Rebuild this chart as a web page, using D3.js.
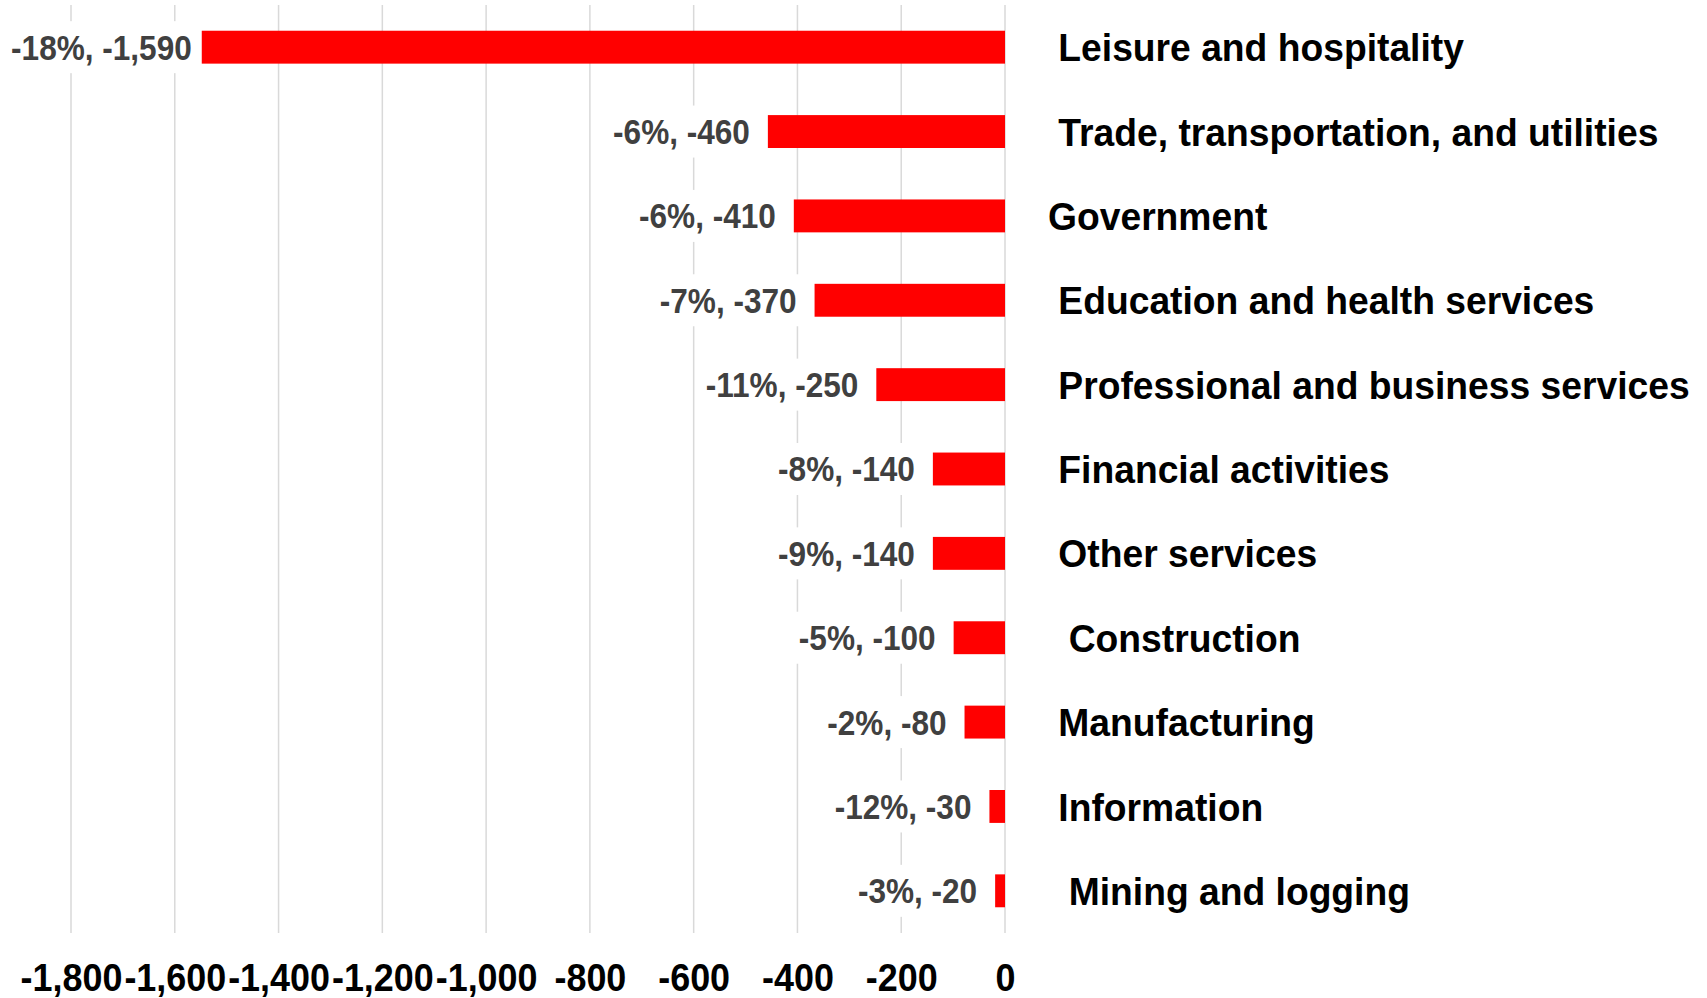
<!DOCTYPE html>
<html>
<head>
<meta charset="utf-8">
<script src="https://cdn.jsdelivr.net/npm/d3@7"></script>
<style>
  body { margin: 0; background: #fff; }
  text { font-family: "Liberation Sans", Arial, sans-serif; font-weight: bold; }
</style>
</head>
<body>
<div class="chart"></div>
<script>
// categories (leading spaces reproduce the slight label offsets of the original)
var categories = [
    " Leisure and hospitality",
    " Trade, transportation, and utilities",
    "Government",
    " Education and health services",
    " Professional and business services",
    " Financial activities",
    " Other services",
    "  Construction",
    " Manufacturing",
    " Information",
    "  Mining and logging"
];
// bar lengths as drawn (thousands of jobs)
var barValues = [-1548, -457, -407, -367, -248, -139, -139, -99, -78, -30, -19];
// label text: percent change and job change
var pctChange = [-18, -6, -6, -7, -11, -8, -9, -5, -2, -12, -3];
var jobChange = [-1590, -460, -410, -370, -250, -140, -140, -100, -80, -30, -20];
var tickValues = [-1800, -1600, -1400, -1200, -1000, -800, -600, -400, -200, 0];

var W = 1707, H = 998;
var locale = d3.formatLocale({ decimal: ".", thousands: ",", grouping: [3], currency: ["$", ""], minus: "-" });
var fmt = locale.format(",");

// the original font is a little narrower than Arial, so text is squeezed horizontally
function place(sel, px, py, k) {
    sel.attr('x', 0).attr('y', 0)
        .attr('transform', 'translate(' + px + ',' + py + ') scale(' + k + ',1)');
}

var x = d3.scaleLinear()
    .domain([-1800, 0])
    .range([71, 1005]);

var y = d3.scaleBand()
    .domain(categories)
    .range([5, 933])
    .paddingInner(0.61)
    .paddingOuter(0.305);

var svg = d3.select('.chart')
    .append('svg')
    .attr('width', W)
    .attr('height', H)
    .style('background', '#fff');

// vertical gridlines
svg.append('g')
    .selectAll('line')
    .data(tickValues)
    .enter()
    .append('line')
    .attr('x1', d => x(d))
    .attr('x2', d => x(d))
    .attr('y1', 5)
    .attr('y2', 933)
    .attr('stroke', '#d9d9d9')
    .attr('stroke-width', 1.5);

// bars
svg.append('g')
    .selectAll('rect')
    .data(barValues)
    .enter()
    .append('rect')
    .attr('x', d => x(d))
    .attr('width', d => x(0) - x(d))
    .attr('y', (d, i) => y(categories[i]))
    .attr('height', y.bandwidth())
    .attr('fill', '#ff0000');

// data labels with white boxes that hide the gridlines
var labels = svg.append('g')
    .selectAll('g')
    .data(barValues)
    .enter()
    .append('g');

labels.each(function (d, i) {
    var g = d3.select(this);
    var cy = y(categories[i]) + y.bandwidth() / 2;
    var k = 0.915;
    var t = g.append('text')
        .attr('dy', '0.36em')
        .attr('font-size', 34.5)
        .attr('fill', '#404040')
        .attr('text-anchor', 'end')
        .text(pctChange[i] + '%, ' + fmt(jobChange[i]));
    var w = t.node().getComputedTextLength() * k;
    var right = Math.max(x(d) - 18, 11 + w);
    place(t, right, cy, k);
    g.insert('rect', 'text')
        .attr('x', right - w - 6)
        .attr('width', w + 12)
        .attr('y', cy - 26)
        .attr('height', 52)
        .attr('fill', '#fff');
});

// category labels
svg.append('g')
    .selectAll('text')
    .data(categories)
    .enter()
    .append('text')
    .attr('dy', '0.36em')
    .attr('font-size', 39)
    .attr('fill', '#000')
    .style('white-space', 'pre')
    .text(d => d)
    .each(function (d) {
        place(d3.select(this), 1048, y(d) + y.bandwidth() / 2, 0.955);
    });

// x axis labels
var xAxis = d3.axisBottom(x)
    .tickValues(tickValues)
    .tickSize(0)
    .tickPadding(0)
    .tickFormat(fmt);

var axisG = svg.append('g')
    .attr('transform', 'translate(0, 977)')
    .call(xAxis);
axisG.select('.domain').remove();
axisG.selectAll('text')
    .attr('dy', '0.36em')
    .attr('font-size', 38)
    .attr('font-family', '"Liberation Sans", Arial, sans-serif')
    .attr('font-weight', 'bold')
    .attr('fill', '#000')
    .each(function () {
        place(d3.select(this), 0, 0, 0.945);
    });
</script>
</body>
</html>
